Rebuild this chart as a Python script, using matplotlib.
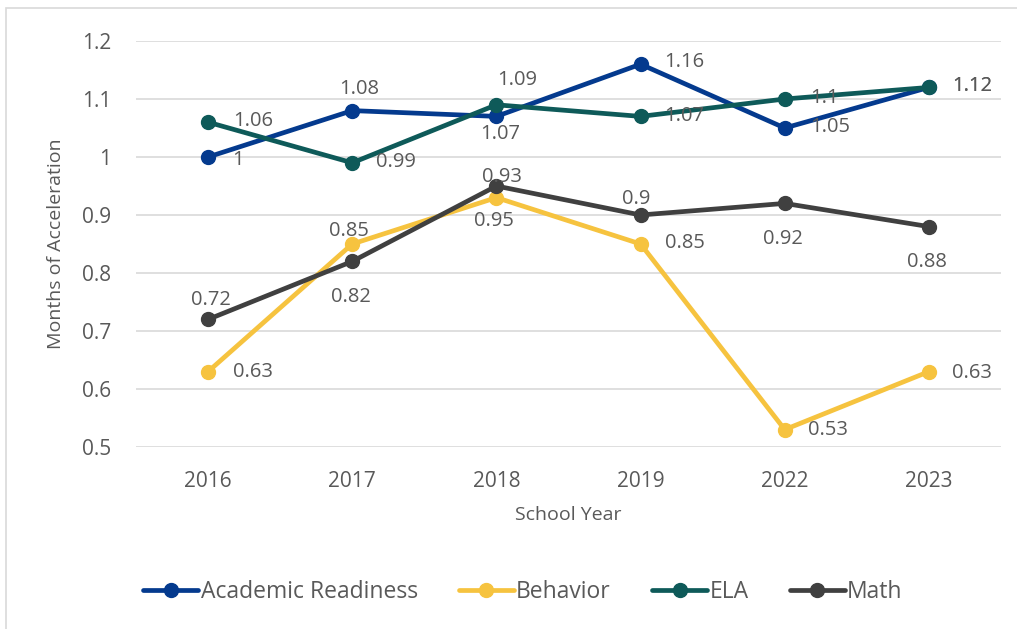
import matplotlib.pyplot as plt
from matplotlib.patches import Rectangle
from matplotlib.ticker import FuncFormatter

# chart data
years = ["2016", "2017", "2018", "2019", "2022", "2023"]
academic = [1.00, 1.08, 1.07, 1.16, 1.05, 1.12]
behavior = [0.63, 0.85, 0.93, 0.85, 0.53, 0.63]
ela = [1.06, 0.99, 1.09, 1.07, 1.10, 1.12]
math_vals = [0.72, 0.82, 0.95, 0.90, 0.92, 0.88]

series_names = ["Academic Readiness", "Behavior", "ELA", "Math"]
series_values = [academic, behavior, ela, math_vals]
colors = ["#043A8E", "#F6C33F", "#0E5A59", "#404040"]

# label placement in pixels (dx, dy up, horizontal alignment)
label_offsets = [
    [(24, -3, "left"), (7, 22, "center"), (4, -18, "center"),
     (24, 2, "left"), (25, 1, "left"), (23, 1, "left")],
    [(25, 0, "left"), (-3, 13, "center"), (6, 21, "center"),
     (24, 1, "left"), (23, 0, "left"), (23, -1, "left")],
    [(25, 1, "left"), (24, 1, "left"), (21, 25, "center"),
     (24, 0, "left"), (25, 1, "left"), (23, 1, "left")],
    [(3, 19, "center"), (-1, -36, "center"), (-2, -35, "center"),
     (-4, 16, "center"), (-2, -36, "center"), (-2, -35, "center")],
]

TEXT = "#595959"
FONT = "Open Sans"


def fmt(v):
    return f"{v:g}"


def main():
    plt.rcParams["font.family"] = [FONT, "DejaVu Sans"]
    fig = plt.figure(figsize=(10.17, 6.29), dpi=100)
    ax = fig.add_axes([136 / 1017, 1 - 447 / 629, 865 / 1017, 406 / 629])

    # thin grey frame like the pasted chart area
    fig.patches.append(Rectangle((6 / 1017, -0.1), 1.2, 1.1 - 8 / 629,
                                 transform=fig.transFigure, fill=False,
                                 edgecolor="#D9D9D9", linewidth=1.2))

    x = list(range(len(years)))
    handles = []
    for name, vals, col in zip(series_names, series_values, colors):
        h, = ax.plot(x, vals, color=col, lw=3.4, marker="o", ms=10,
                     solid_capstyle="round", label=name, zorder=3)
        handles.append(h)

    for vals, offs in zip(series_values, label_offsets):
        for xi, v, (dx, dy, ha) in zip(x, vals, offs):
            ax.annotate(fmt(v), (xi, v), xytext=(dx, dy),
                        textcoords="offset pixels", ha=ha, va="center",
                        fontsize=14.5, color=TEXT, zorder=5)

    ax.set_xlim(-0.5, len(years) - 0.5)
    ax.set_ylim(0.5, 1.2)
    ax.set_yticks([0.5, 0.6, 0.7, 0.8, 0.9, 1.0, 1.1, 1.2])
    ax.yaxis.set_major_formatter(FuncFormatter(lambda v, p: fmt(round(v, 2))))
    ax.set_xticks(x)
    ax.set_xticklabels(years)
    ax.grid(axis="y", color="#D9D9D9", lw=1.2)
    ax.set_axisbelow(True)
    for s in ax.spines.values():
        s.set_visible(False)
    ax.tick_params(length=0, labelsize=15, labelcolor=TEXT)
    ax.tick_params(axis="y", pad=18)
    ax.tick_params(axis="x", pad=17)

    ax.set_xlabel("School Year", fontsize=14, color=TEXT, labelpad=10)
    ax.set_ylabel("Months of Acceleration", fontsize=14, color=TEXT,
                  labelpad=12)

    fig.legend(handles=handles, loc="center", ncol=4, frameon=False,
               bbox_to_anchor=(523 / 1017, 1 - 592 / 629),
               fontsize=16.5, labelcolor=TEXT, handlelength=2.4,
               handletextpad=0.1, columnspacing=1.8)

    fig.savefig("out.png", dpi=100)


if __name__ == '__main__':
    main()
